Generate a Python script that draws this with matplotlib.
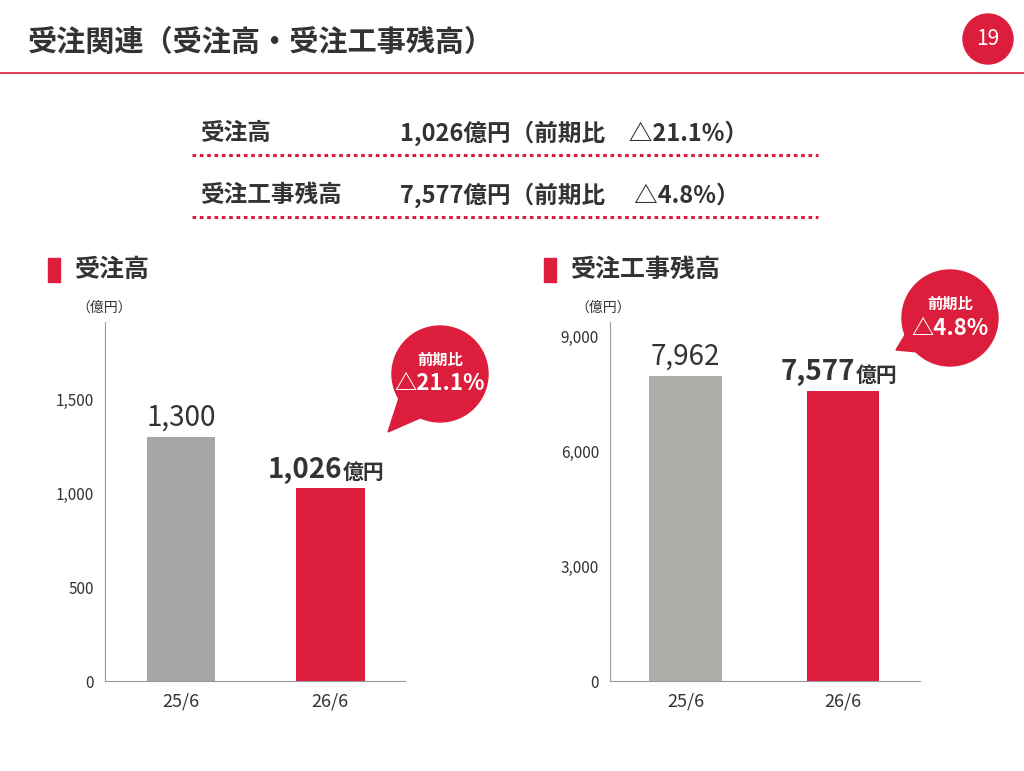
import matplotlib
matplotlib.use("Agg")
import matplotlib.pyplot as plt
from matplotlib.patches import Ellipse, Polygon, Rectangle

plt.rcParams['font.family'] = ['Noto Sans CJK JP', 'DejaVu Sans']

categories = ["25/6", "26/6"]
orders = [1300, 1026]
backlog = [7962, 7577]
order_labels = ["1,300", "1,026"]
backlog_labels = ["7,962", "7,577"]
order_ticks = [0, 500, 1000, 1500]
backlog_ticks = [0, 3000, 6000, 9000]

RED = "#dc1e3c"
GRAY = "#a6a6a6"
GRAY2 = "#aeaeab"
W, H = 1024, 771

fig = plt.figure(figsize=(W/100, H/100), dpi=100)

def fx(x): return x / W
def fy(y): return 1 - y / H

def circ(cx, cy, r):
    e = Ellipse((fx(cx), fy(cy)), 2*r/W, 2*r/H, transform=fig.transFigure, color=RED)
    fig.add_artist(e)

# header
fig.text(fx(28), fy(42), "受注関連（受注高・受注工事残高）", fontsize=21, fontweight='bold', color="#333333", va='center')
fig.add_artist(plt.Line2D([0, 1], [fy(73), fy(73)], color=RED, lw=1.2))
circ(988, 39, 25)
fig.text(fx(988), fy(39), "19", fontsize=15, color="white", ha='center', va='center')

# summary
fig.text(fx(200), fy(133), "受注高", fontsize=17, fontweight='bold', color="#333333", va='center')
fig.text(fx(400), fy(133), "1,026億円（前期比　△21.1%）", fontsize=17, fontweight='bold', color="#333333", va='center')
fig.text(fx(200), fy(195), "受注工事残高", fontsize=17, fontweight='bold', color="#333333", va='center')
fig.text(fx(400), fy(195), "7,577億円（前期比　 △4.8%）", fontsize=17, fontweight='bold', color="#333333", va='center')
for yy in (155, 217):
    fig.add_artist(plt.Line2D([fx(192), fx(818)], [fy(yy), fy(yy)], color=RED, lw=2.2, ls=(0, (1.2, 1.2))))

# section titles
for x0, t in ((48, "受注高"), (544, "受注工事残高")):
    r = Rectangle((fx(x0), fy(282)), 12/W, 24/H, transform=fig.transFigure, color=RED)
    fig.add_artist(r)
    fig.text(fx(x0 + 26), fy(270), t, fontsize=18, fontweight='bold', color="#333333", va='center')

def panel(rect, vals, labels, ticks, ylim, xl, bar_colors):
    ax = fig.add_axes(rect)
    x = range(len(categories))
    ax.bar(x, vals, width=0.46, color=bar_colors)
    ax.set_xlim(*xl)
    ax.set_ylim(0, ylim)
    ax.set_xticks(list(x))
    ax.set_xticklabels(categories, fontsize=13, color="#333333")
    ax.set_yticks(ticks)
    ax.set_yticklabels([f"{t:,}" for t in ticks], fontsize=11, color="#333333")
    for s in ("top", "right"):
        ax.spines[s].set_visible(False)
    for s in ("left", "bottom"):
        ax.spines[s].set_color("#999999")
    ax.tick_params(length=0, pad=8)
    ax.text(0, vals[0] + ylim*0.012, labels[0], ha='center', va='bottom', fontsize=20, color="#333333")
    ax.text(1.08, vals[1] + ylim*0.012, labels[1], ha='right', va='bottom', fontsize=20, fontweight='bold', color="#333333")
    ax.text(1.08, vals[1] + ylim*0.014, "億円", ha='left', va='bottom', fontsize=15, fontweight='bold', color="#333333")
    ax.text(-0.7, ylim*1.03, "（億円）", fontsize=10, color="#333333", ha='left')
    return ax

panel([fx(105), fy(681), 300/W, 359/H], orders, order_labels, order_ticks, 1910, (-0.51, 1.5), [GRAY, RED])
panel([fx(610), fy(681), 310/W, 359/H], backlog, backlog_labels, backlog_ticks, 9365, (-0.48, 1.49), [GRAY2, RED])

def bubble(cx, cy, r, tail, l1, l2):
    circ(cx, cy, r)
    p = Polygon([(fx(a), fy(b)) for a, b in tail], closed=True, transform=fig.transFigure, color=RED)
    fig.add_artist(p)
    fig.text(fx(cx), fy(cy - 14), l1, fontsize=11, fontweight='bold', color="white", ha='center', va='center')
    fig.text(fx(cx), fy(cy + 10), l2, fontsize=16, fontweight='bold', color="white", ha='center', va='center')

bubble(440, 374, 48, [(400, 395), (420, 418), (388, 432)], "前期比", "△21.1%")
bubble(950, 318, 48, [(908, 330), (918, 352), (896, 350)], "前期比", "△4.8%")

fig.savefig("out.png", dpi=100)
